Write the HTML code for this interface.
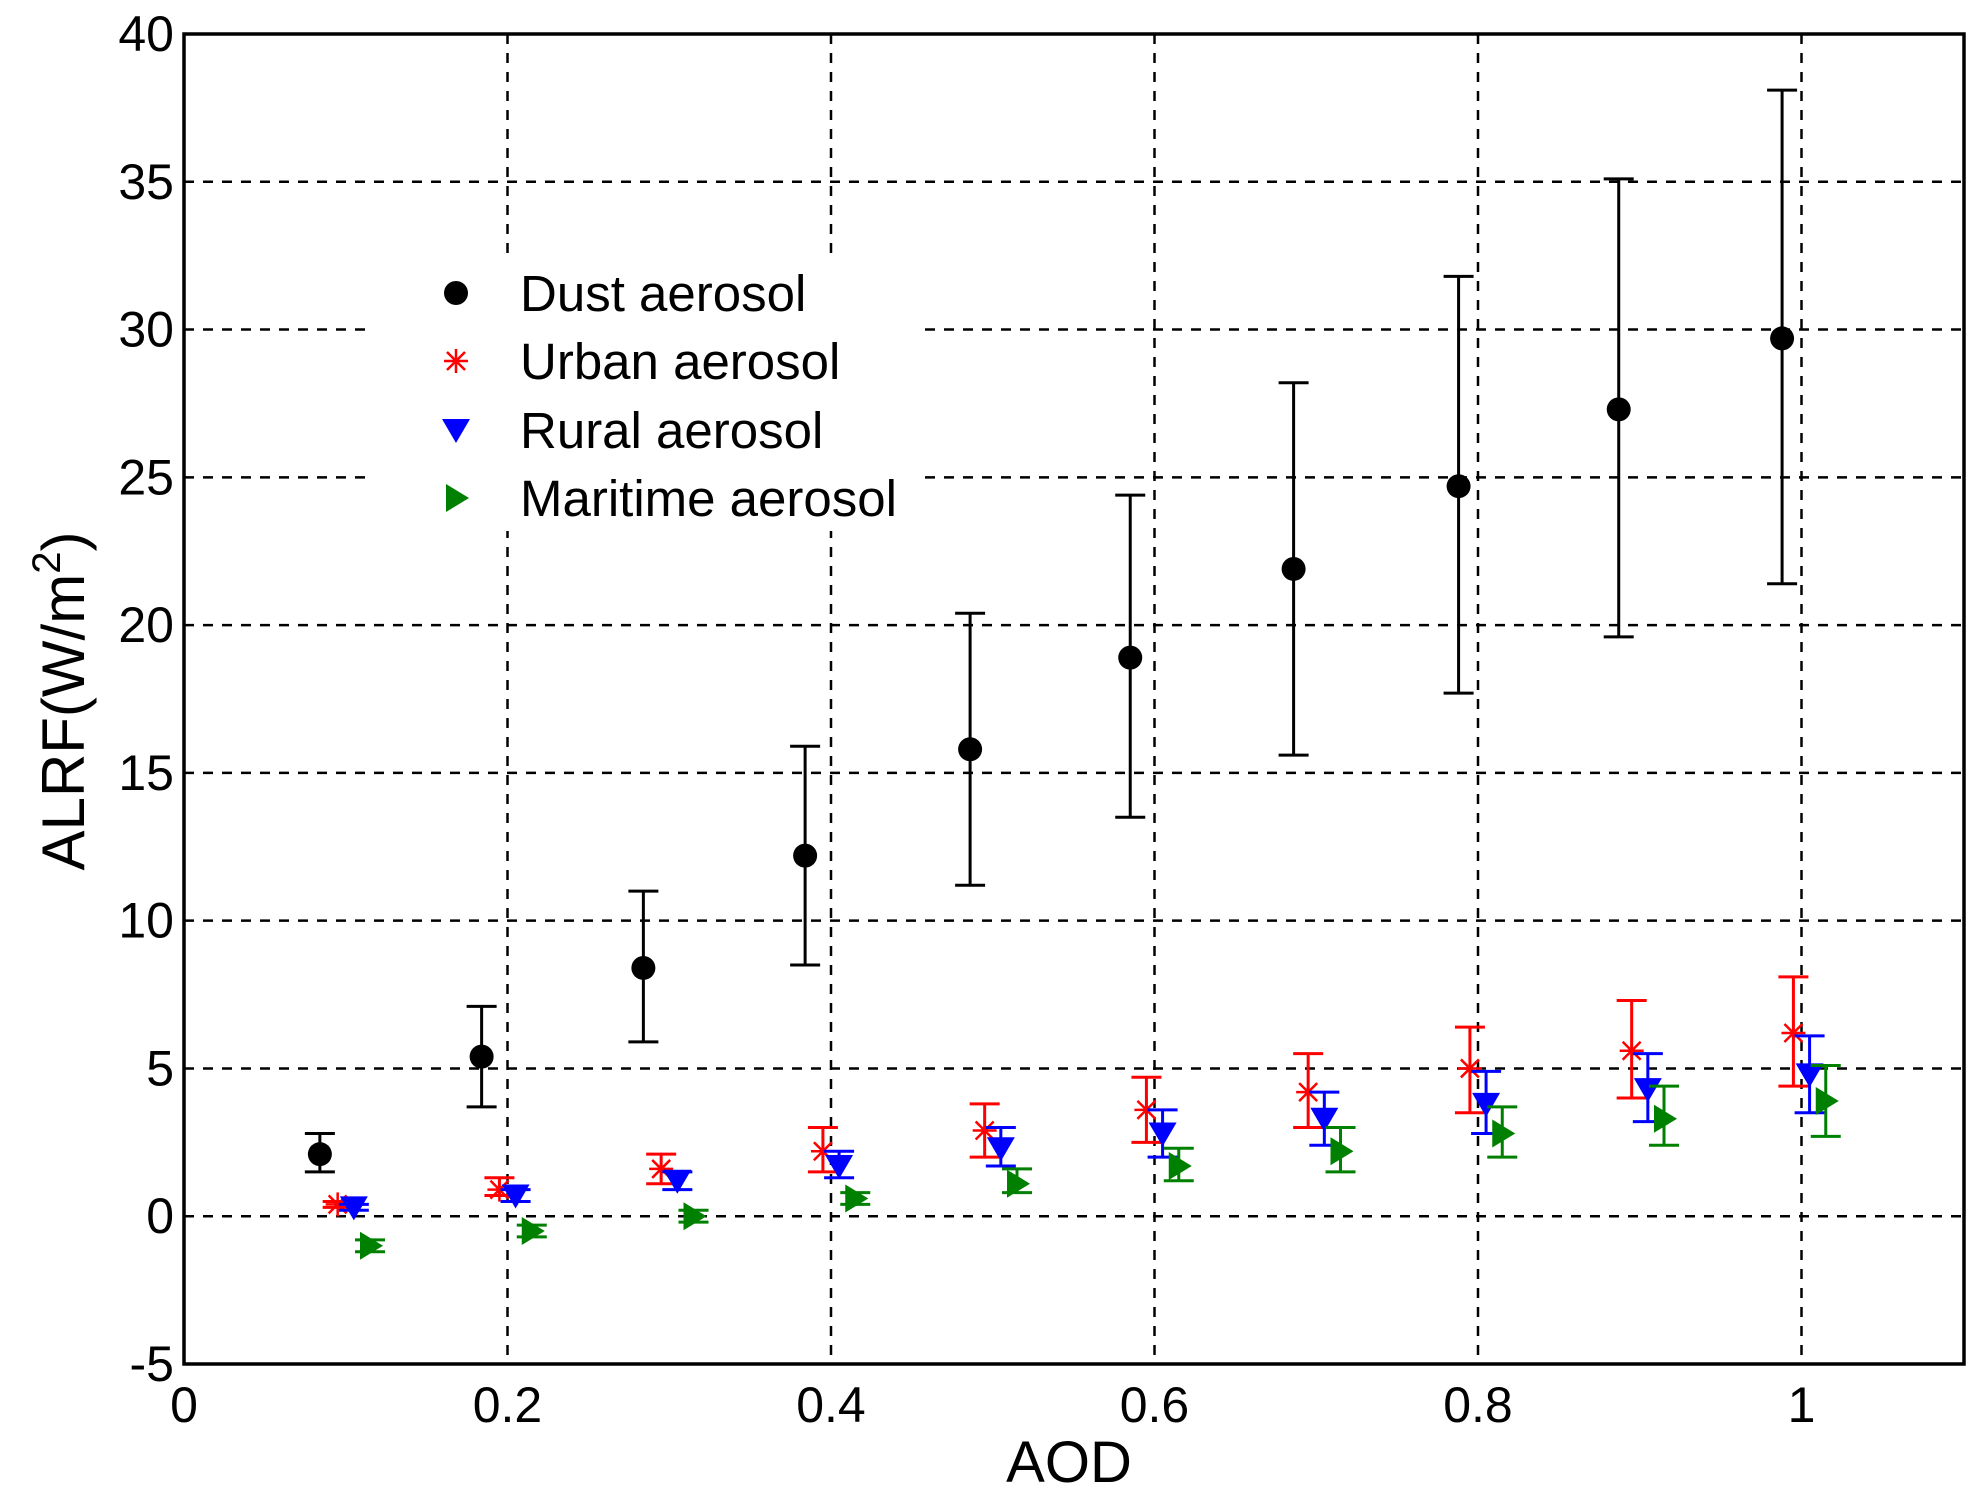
<!DOCTYPE html>
<html><head><meta charset="utf-8"><style>
body{margin:0;background:#fff}
svg{display:block;font-family:"Liberation Sans",Arial,sans-serif}
</style></head><body>
<svg id="chart" width="1981" height="1511" viewBox="0 0 1981 1511" xmlns="http://www.w3.org/2000/svg">
<rect width="1981" height="1511" fill="#fff"/>
<g id="grid"></g>
<g id="marks"></g>
<rect x="184" y="34" width="1780" height="1330" fill="none" stroke="#000" stroke-width="3.5"/>
<g id="ticks" font-size="50"></g>
<text x="1069" y="1482" font-size="58" text-anchor="middle">AOD</text>
<text transform="translate(84,701) rotate(-90)" font-size="60" text-anchor="middle">ALRF(W/m<tspan font-size="40" dy="-24">2</tspan><tspan dy="24">)</tspan></text>
<g id="legend"></g>
</svg>
<script>
const xTicks=[0,0.2,0.4,0.6,0.8,1];
const xTickLabels=["0","0.2","0.4","0.6","0.8","1"];
const yTicks=[-5,0,5,10,15,20,25,30,35,40];
const yTickLabels=["-5","0","5","10","15","20","25","30","35","40"];
const dustX=[0.084,0.184,0.284,0.384,0.486,0.585,0.686,0.788,0.887,0.988];
const dustY=[2.1,5.4,8.4,12.2,15.8,18.9,21.9,24.7,27.3,29.7];
const dustLo=[1.5,3.7,5.9,8.5,11.2,13.5,15.6,17.7,19.6,21.4];
const dustHi=[2.8,7.1,11.0,15.9,20.4,24.4,28.2,31.8,35.1,38.1];
const urbanX=[0.095,0.195,0.295,0.395,0.495,0.595,0.695,0.795,0.895,0.995];
const urbanY=[0.4,0.9,1.6,2.2,2.9,3.6,4.2,5.0,5.6,6.2];
const urbanLo=[0.3,0.7,1.1,1.5,2.0,2.5,3.0,3.5,4.0,4.4];
const urbanHi=[0.5,1.3,2.1,3.0,3.8,4.7,5.5,6.4,7.3,8.1];
const ruralX=[0.105,0.205,0.305,0.405,0.505,0.605,0.705,0.805,0.905,1.005];
const ruralY=[0.3,0.7,1.2,1.7,2.3,2.8,3.3,3.8,4.3,4.8];
const ruralLo=[0.2,0.5,0.9,1.3,1.7,2.0,2.4,2.8,3.2,3.5];
const ruralHi=[0.4,0.9,1.5,2.2,3.0,3.6,4.2,4.9,5.5,6.1];
const marX=[0.115,0.215,0.315,0.415,0.515,0.615,0.715,0.815,0.915,1.015];
const marY=[-1.0,-0.5,0.0,0.6,1.1,1.7,2.2,2.8,3.3,3.9];
const marLo=[-1.2,-0.7,-0.2,0.4,0.8,1.2,1.5,2.0,2.4,2.7];
const marHi=[-0.8,-0.3,0.2,0.8,1.6,2.3,3.0,3.7,4.4,5.1];

const NS="http://www.w3.org/2000/svg";
const L=184,R=1964,T=34,B=1364;
const sx=v=>L+v*(1801.5-L);
const sy=v=>B-(v+5)*(B-T)/45;
function mk(tag,attrs,parent){const e=document.createElementNS(NS,tag);for(const k in attrs)e.setAttribute(k,attrs[k]);parent.appendChild(e);return e;}
const grid=document.getElementById('grid'),ticks=document.getElementById('ticks'),marks=document.getElementById('marks'),legend=document.getElementById('legend');
xTicks.forEach((v,i)=>{
  if(v>0){const g=mk('line',{x1:sx(v),x2:sx(v),y1:T,y2:B,stroke:'#000','stroke-width':2.5,'stroke-dasharray':'10 9'},grid);
  
  }
  const t=mk('text',{x:sx(v),y:B+58,'text-anchor':'middle'},ticks);t.textContent=xTickLabels[i];
  
  
});
yTicks.forEach((v,i)=>{
  if(v>-5&&v<40){const g=mk('line',{x1:L,x2:R,y1:sy(v),y2:sy(v),stroke:'#000','stroke-width':2.5,'stroke-dasharray':'10 9'},grid);
  
  }
  const t=mk('text',{x:L-10,y:sy(v)+17,'text-anchor':'end'},ticks);t.textContent=yTickLabels[i];
  
  
});
function marker(type,x,y,c,parent){
  let e;
  if(type==='circle')e=mk('circle',{cx:x,cy:y,r:12,fill:c},parent);
  else if(type==='star'){e=mk('path',{d:`M${x-12} ${y}H${x+12}M${x} ${y-12}V${y+12}M${x-9} ${y-9}L${x+9} ${y+9}M${x-9} ${y+9}L${x+9} ${y-9}`,stroke:c,'stroke-width':2.5,fill:'none'},parent);}
  else if(type==='down')e=mk('path',{d:`M${x-14} ${y-11}L${x+14} ${y-11}L${x} ${y+13}Z`,fill:c},parent);
  else e=mk('path',{d:`M${x-10} ${y-14}L${x+13} ${y}L${x-10} ${y+14}Z`,fill:c},parent);
  return e;
}
const series=[
  {n:'dust',X:dustX,Y:dustY,Lo:dustLo,Hi:dustHi,c:'#000',m:'circle'},
  {n:'urban',X:urbanX,Y:urbanY,Lo:urbanLo,Hi:urbanHi,c:'#ff0000',m:'star'},
  {n:'rural',X:ruralX,Y:ruralY,Lo:ruralLo,Hi:ruralHi,c:'#0000ff',m:'down'},
  {n:'maritime',X:marX,Y:marY,Lo:marLo,Hi:marHi,c:'#008000',m:'right'}];
series.forEach(s=>{
  const g=mk('g',{},marks);
  
  
  s.X.forEach((xv,i)=>{
    const x=sx(xv),y1=sy(s.Lo[i]),y2=sy(s.Hi[i]);
    const eb=mk('path',{d:`M${x} ${y1}V${y2}M${x-15} ${y1}H${x+15}M${x-15} ${y2}H${x+15}`,stroke:s.c,'stroke-width':3,fill:'none'},g);
    
    
    const p=marker(s.m,x,sy(s.Y[i]),s.c,g);
    
    
  });
});
mk('rect',{x:373,y:253,width:543,height:278,fill:'#fff'},legend);
const legLabels=['Dust aerosol','Urban aerosol','Rural aerosol','Maritime aerosol'];
const legY=[293,361,430,498];
series.forEach((s,i)=>{
  const m=marker(s.m,456,legY[i],s.c,legend);
  
  
  const t=mk('text',{x:520,y:legY[i]+18,'font-size':51},legend);t.textContent=legLabels[i];
  
  
});
</script>
</body></html>
